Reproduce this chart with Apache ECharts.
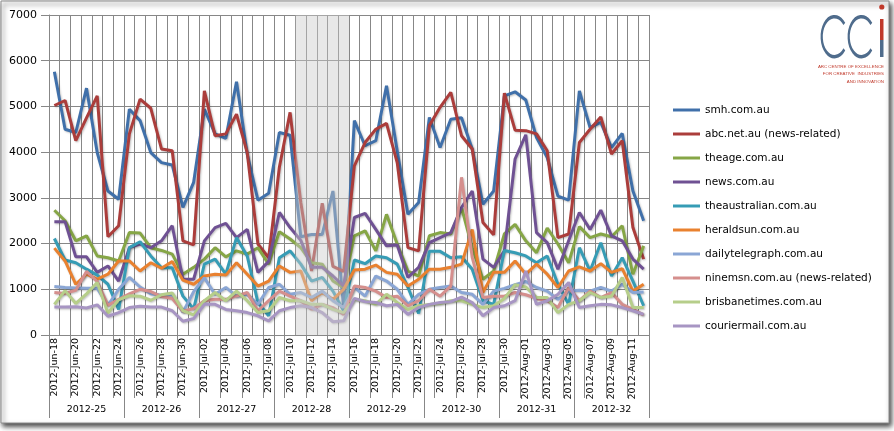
<!DOCTYPE html>
<html lang="en">
<head>
  <meta charset="UTF-8">
  <title>Daily visits - Australian news sites</title>
  <script src="https://cdn.jsdelivr.net/npm/echarts@6/dist/echarts.min.js"></script>
  <style>
    body { margin: 0; background: #fff; }
    #chart { width: 894px; height: 431px; }
  </style>
</head>
<body>
  <div id="chart"></div>
  <script>
    // category axis: one entry per day, grouped into ISO weeks below
    var days = [
      '2012-Jun-18', '2012-Jun-19', '2012-Jun-20', '2012-Jun-21', '2012-Jun-22', '2012-Jun-23', '2012-Jun-24',
      '2012-Jun-25', '2012-Jun-26', '2012-Jun-27', '2012-Jun-28', '2012-Jun-29', '2012-Jun-30', '2012-Jul-01',
      '2012-Jul-02', '2012-Jul-03', '2012-Jul-04', '2012-Jul-05', '2012-Jul-06', '2012-Jul-07', '2012-Jul-08',
      '2012-Jul-09', '2012-Jul-10', '2012-Jul-11', '2012-Jul-12', '2012-Jul-13', '2012-Jul-14', '2012-Jul-15',
      '2012-Jul-16', '2012-Jul-17', '2012-Jul-18', '2012-Jul-19', '2012-Jul-20', '2012-Jul-21', '2012-Jul-22',
      '2012-Jul-23', '2012-Jul-24', '2012-Jul-25', '2012-Jul-26', '2012-Jul-27', '2012-Jul-28', '2012-Jul-29',
      '2012-Jul-30', '2012-Jul-31', '2012-Aug-01', '2012-Aug-02', '2012-Aug-03', '2012-Aug-04', '2012-Aug-05',
      '2012-Aug-06', '2012-Aug-07', '2012-Aug-08', '2012-Aug-09', '2012-Aug-10', '2012-Aug-11', '2012-Aug-12'
    ];
    var weeks = ['2012-25', '2012-26', '2012-27', '2012-28', '2012-29', '2012-30', '2012-31', '2012-32'];

    var smh = [5760, 4500, 4430, 5400, 3990, 3150, 2970, 4940, 4690, 3990, 3770, 3720, 2790, 3340,
      4940, 4400, 4300, 5540, 3960, 2950, 3100, 4430, 4370, 2150, 2200, 2200, 3150, 600,
      4690, 4140, 4250, 5450, 4030, 2640, 2900, 4760, 4100, 4720, 4750, 4070, 2860, 3150,
      5230, 5320, 5140, 4320, 3880, 3040, 2950, 5340, 4540, 4650, 4100, 4410, 3150, 2500];
    var abc = [5020, 5130, 4250, 4750, 5230, 2150, 2390, 4400, 5160, 4960, 4070, 4030, 2060, 1970,
      5340, 4360, 4400, 4830, 3990, 1990, 1690, 3670, 4870, 2900, 1400, 2880, 1500, 1390,
      3700, 4210, 4500, 4630, 3770, 1910, 1840, 4580, 4980, 5310, 4360, 4070, 2460, 2190,
      5290, 4480, 4470, 4400, 4030, 2130, 2210, 4210, 4500, 4770, 3960, 4250, 2350, 1660];
    var theage = [2730, 2500, 2060, 2170, 1730, 1690, 1620, 2240, 2230, 1910, 1850, 1770, 1330, 1480,
      1660, 1910, 1710, 1840, 1770, 1910, 1550, 2260, 2100, 1910, 1580, 1550, 1180, 1040,
      2170, 2280, 1840, 2640, 1990, 1400, 1290, 2170, 2240, 2210, 2790, 1910, 1220, 1400,
      2210, 2420, 2060, 1800, 2340, 1990, 1580, 2370, 2130, 2210, 2150, 2390, 1330, 1950];
    var news = [2480, 2480, 1710, 1710, 1370, 1510, 1180, 1910, 1990, 1910, 2060, 2390, 1220, 1220,
      2060, 2350, 2440, 2130, 2310, 1370, 1610, 2680, 2350, 2070, 1480, 1480, 1290, 1070,
      2570, 2660, 2310, 1950, 1970, 1260, 1480, 2020, 2130, 2240, 2790, 3150, 1660, 1480,
      1840, 3850, 4380, 2240, 2020, 1440, 2060, 2680, 2310, 2730, 2170, 2060, 1660, 1440];
    var theaustralian = [2110, 1640, 1580, 1440, 1310, 1110, 560, 1910, 2040, 1730, 1470, 1470, 850, 570,
      1550, 1660, 1330, 2130, 1730, 710, 420, 1690, 1840, 1550, 1180, 1260, 960, 530,
      1640, 1560, 1730, 1690, 1550, 1040, 470, 1830, 1830, 1690, 1710, 1440, 750, 670,
      1850, 1800, 1730, 1580, 1730, 1110, 670, 1910, 1400, 2020, 1290, 1690, 1180, 640];
    var heraldsun = [1900, 1620, 1110, 1330, 1220, 1330, 1620, 1620, 1400, 1580, 1460, 1610, 1200, 1110,
      1290, 1330, 1310, 1580, 1330, 1070, 1180, 1510, 1370, 1400, 750, 930, 780, 1000,
      1420, 1440, 1530, 1370, 1330, 1070, 1220, 1440, 1440, 1480, 1550, 2310, 930, 1370,
      1370, 1620, 1330, 1550, 1330, 1040, 1400, 1490, 1400, 1560, 1370, 1450, 960, 1110];
    var dailytelegraph = [1060, 1040, 1030, 1020, 1020, 650, 1000, 1260, 1050, 900, 870, 880, 500, 950,
      1250, 890, 1040, 850, 890, 670, 1040, 1110, 890, 930, 820, 960, 750, 600,
      1040, 850, 1290, 1180, 1000, 670, 890, 1000, 1040, 1070, 930, 890, 670, 960,
      1020, 1100, 1170, 1040, 960, 780, 960, 980, 960, 1040, 960, 1110, 930, 940];
    var ninemsn = [930, 910, 980, 1390, 1170, 650, 780, 900, 1000, 950, 840, 800, 520, 580,
      750, 780, 780, 850, 930, 530, 750, 960, 850, 750, 560, 670, 600, 450,
      1070, 1040, 960, 820, 850, 640, 750, 1000, 850, 1070, 3450, 1700, 820, 850,
      850, 930, 880, 800, 750, 600, 1040, 750, 960, 820, 930, 670, 560, 440];
    var brisbanetimes = [670, 970, 690, 900, 1150, 480, 770, 860, 850, 760, 880, 920, 530, 440,
      750, 930, 750, 960, 750, 490, 530, 820, 750, 750, 670, 670, 560, 490,
      780, 750, 670, 890, 710, 560, 640, 670, 690, 750, 750, 670, 600, 640,
      800, 1100, 1050, 820, 820, 490, 670, 750, 930, 820, 850, 1260, 600, 600];
    var couriermail = [610, 610, 620, 590, 660, 410, 490, 600, 630, 610, 610, 530, 300, 360,
      670, 670, 560, 530, 490, 420, 310, 530, 600, 640, 600, 490, 290, 310,
      800, 730, 710, 640, 670, 450, 600, 670, 710, 730, 830, 710, 420, 600,
      640, 750, 1400, 670, 750, 890, 1150, 600, 640, 670, 660, 600, 530, 450];

    // days greyed out in the original (part of week 28)
    var shadeDays = ['2012-Jul-11', '2012-Jul-12', '2012-Jul-13', '2012-Jul-14', '2012-Jul-15'];
    var shadeTop = 7000;

    var lines = [
      { name: 'smh.com.au', data: smh, color: '#4070aa' },
      { name: 'abc.net.au (news-related)', data: abc, color: '#ab3d3b' },
      { name: 'theage.com.au', data: theage, color: '#86a646' },
      { name: 'news.com.au', data: news, color: '#6f5193' },
      { name: 'theaustralian.com.au', data: theaustralian, color: '#369cb5' },
      { name: 'heraldsun.com.au', data: heraldsun, color: '#e9812f' },
      { name: 'dailytelegraph.com.au', data: dailytelegraph, color: '#8aa6d5' },
      { name: 'ninemsn.com.au (news-related)', data: ninemsn, color: '#d58f8d' },
      { name: 'brisbanetimes.com.au', data: brisbanetimes, color: '#b6ce8a' },
      { name: 'couriermail.com.au', data: couriermail, color: '#a795c3' }
    ];

    var gridColor = '#878787';
    var font = 'DejaVu Sans';
    var logoBlue = '#4f6c8c';
    var logoRed = '#c0392b';

    var series = lines.map(function (l) {
      return {
        name: l.name,
        type: 'line',
        data: l.data,
        symbol: 'none',
        itemStyle: { color: l.color },
        lineStyle: {
          width: 3,
          color: l.color,
          shadowColor: 'rgba(0,0,0,0.25)',
          shadowBlur: 2,
          shadowOffsetX: 1,
          shadowOffsetY: 1
        }
      };
    });

    // translucent grey column over the shaded days, on top of the lines
    series.push({
      name: 'shade',
      type: 'bar',
      data: days.map(function (d) { return shadeDays.indexOf(d) >= 0 ? shadeTop : '-'; }),
      barCategoryGap: '0%',
      itemStyle: { color: 'rgba(205,205,205,0.45)' },
      silent: true,
      z: 5
    });

    var chart = echarts.init(document.getElementById('chart'));

    var option = {
      animation: false,
      backgroundColor: '#fff',
      grid: { left: 49, right: 245, top: 15, bottom: 96 },
      legend: {
        data: lines.map(function (l) { return l.name; }),
        orient: 'vertical',
        left: 668,
        top: 98,
        icon: 'rect',
        itemWidth: 27,
        itemHeight: 3,
        itemGap: 10,
        textStyle: { fontFamily: font, fontSize: 10.5, color: '#000', lineHeight: 14 }
      },
      xAxis: [
        {
          type: 'category',
          data: days,
          boundaryGap: true,
          axisLine: { lineStyle: { color: gridColor } },
          axisTick: { show: true, interval: 1, length: 63, lineStyle: { color: gridColor } },
          axisLabel: { interval: 1, rotate: 90, margin: 3, fontFamily: font, fontSize: 9.5, color: '#000' },
          splitLine: { show: true, interval: 0, lineStyle: { color: gridColor } }
        },
        {
          type: 'category',
          data: weeks,
          position: 'bottom',
          offset: 0,
          boundaryGap: true,
          axisLine: { show: false },
          axisTick: { show: true, interval: 0, length: 83, lineStyle: { color: gridColor } },
          axisLabel: { margin: 70, fontFamily: font, fontSize: 9.5, color: '#000' },
          splitLine: { show: false }
        }
      ],
      yAxis: {
        type: 'value',
        min: 0,
        max: 7000,
        interval: 1000,
        axisLine: { show: true, lineStyle: { color: gridColor } },
        axisTick: { show: true, length: 8, lineStyle: { color: gridColor } },
        axisLabel: {
          margin: 12, fontFamily: font, fontSize: 11, color: '#000',
          formatter: function (v) { return String(v); }
        },
        splitLine: { lineStyle: { color: gridColor } }
      },
      graphic: [
        // chart frame with its drop shadow
        {
          type: 'rect', z: -10, silent: true,
          shape: { x: 1, y: 1, width: 888, height: 422 },
          style: { fill: '#fff', stroke: '#8c8c8c', lineWidth: 1, shadowBlur: 5, shadowOffsetX: 2, shadowOffsetY: 3, shadowColor: 'rgba(0,0,0,0.75)' }
        },
        // CCi logo
        {
          type: 'arc', silent: true, scaleX: 0.64, originX: 834.5, originY: 36.7,
          shape: { cx: 834.5, cy: 36.7, r: 20, startAngle: Math.PI * 0.22, endAngle: Math.PI * 1.78, clockwise: true },
          style: { stroke: logoBlue, lineWidth: 3.5, fill: null }
        },
        {
          type: 'arc', silent: true, scaleX: 0.64, originX: 861.5, originY: 36.7,
          shape: { cx: 861.5, cy: 36.7, r: 20, startAngle: Math.PI * 0.22, endAngle: Math.PI * 1.78, clockwise: true },
          style: { stroke: logoBlue, lineWidth: 3.5, fill: null }
        },
        { type: 'rect', silent: true, shape: { x: 880, y: 19, width: 3.5, height: 21 }, style: { fill: logoRed } },
        { type: 'rect', silent: true, shape: { x: 880, y: 40, width: 3.5, height: 17 }, style: { fill: logoBlue } },
        { type: 'circle', silent: true, shape: { cx: 881.8, cy: 7, r: 2.6 }, style: { fill: logoRed } },
        {
          type: 'text', silent: true,
          style: { x: 884, y: 66.5, text: 'ARC CENTRE OF EXCELLENCE', align: 'right', verticalAlign: 'middle', fontFamily: 'Liberation Sans', fontSize: 4.4, fill: logoRed }
        },
        {
          type: 'text', silent: true,
          style: { x: 884, y: 74, text: 'FOR CREATIVE  INDUSTRIES', align: 'right', verticalAlign: 'middle', fontFamily: 'Liberation Sans', fontSize: 4.4, fill: logoRed }
        },
        {
          type: 'text', silent: true,
          style: { x: 884, y: 81.5, text: 'AND INNOVATION', align: 'right', verticalAlign: 'middle', fontFamily: 'Liberation Sans', fontSize: 4.4, fill: logoRed }
        }
      ],
      series: series
    };

    chart.setOption(option);
  </script>
</body>
</html>
